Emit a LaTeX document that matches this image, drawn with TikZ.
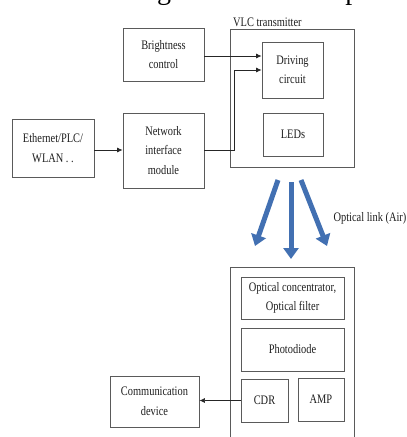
\documentclass[tikz,border=0pt]{standalone}
\usepackage{fontspec}
\setmainfont{Liberation Serif}[FakeStretch=0.8]
\newfontfamily\pagefont{Liberation Serif}
\usetikzlibrary{arrows.meta}
\definecolor{boxline}{RGB}{90,90,90}
\definecolor{txt}{RGB}{30,30,30}
\definecolor{linkblue}{RGB}{66,112,178}
\tikzset{
  blk/.style={draw=boxline, line width=0.9pt, align=center, inner sep=1pt,
    text=txt, font=\fontsize{13}{19.5}\selectfont},
  lbl/.style={text=txt, font=\fontsize{13}{19.5}\selectfont, inner sep=0pt},
  arr/.style={draw=black!85, line width=0.7pt, -{Latex[length=5.5pt,width=5pt]}},
  beam/.style={draw=linkblue, line width=5pt, -{Triangle[width=15pt,length=11pt]}}
}
\begin{document}
\begin{tikzpicture}[x=1pt,y=-1pt]
\useasboundingbox (0,0) rectangle (407,437);
% cut-off page text at the very top
\begin{scope}
\clip (0,0) rectangle (407,437);
\node[anchor=base west, inner sep=0pt, font=\pagefont\fontsize{28}{28}\selectfont] (pagetxt) at (27,-0.8) {ician leading to the same response};
\end{scope}
% transmitter side
\node[blk, minimum width=81pt, minimum height=53pt] (bright) at (163.5,54.5) {Brightness\\control};
\node[blk, minimum width=124pt, minimum height=138pt] (vlc) at (292,98) {};
\node[lbl, anchor=south west] (vlclbl) at (233,27) {VLC transmitter};
\node[blk, minimum width=61pt, minimum height=56pt] (drive) at (292.5,70) {Driving\\circuit};
\node[blk, minimum width=60pt, minimum height=43pt] (leds) at (293,134.5) {LEDs};
\node[blk, minimum width=82pt, minimum height=58pt] (eth) at (53,148) {Ethernet/PLC/\\WLAN . .};
\node[blk, minimum width=81pt, minimum height=75pt] (net) at (163.5,150.5) {Network\\interface\\module};
% connectors
\draw[arr] (eth.east |- 0,150) -- (net.west |- 0,150);
\draw[arr] (bright.east |- 0,56) -- (drive.west |- 0,56);
\coordinate (bend) at (234,70);
\draw[arr] (net.east |- 0,150) -| (bend) -- (drive.west);
% optical link
\coordinate (b1s) at (278,180); \coordinate (b1e) at (255,246);
\coordinate (b2s) at (291,182); \coordinate (b2e) at (291,259);
\coordinate (b3s) at (301,180); \coordinate (b3e) at (327,246);
\draw[beam] (b1s) -- (b1e);
\draw[beam] (b2s) -- (b2e);
\draw[beam] (b3s) -- (b3e);
\node[lbl] (linklbl) at (370,218) {Optical link (Air)};
% receiver side
\node[blk, minimum width=124pt, minimum height=186pt] (rx) at (292,360) {};
\node[blk, minimum width=103pt, minimum height=42pt] (optc) at (292.5,298) {Optical concentrator,\\Optical filter};
\node[blk, minimum width=103pt, minimum height=43pt] (photo) at (292.5,349.5) {Photodiode};
\node[blk, minimum width=47pt, minimum height=43pt] (cdr) at (264.5,400.5) {CDR};
\node[blk, minimum width=46pt, minimum height=43pt] (amp) at (321,399.5) {AMP};
\node[blk, minimum width=89pt, minimum height=51pt] (comm) at (154.5,401.5) {Communication\\device};
\draw[arr] (cdr.west) -- (cdr.west -| comm.east);
\end{tikzpicture}
\end{document}
